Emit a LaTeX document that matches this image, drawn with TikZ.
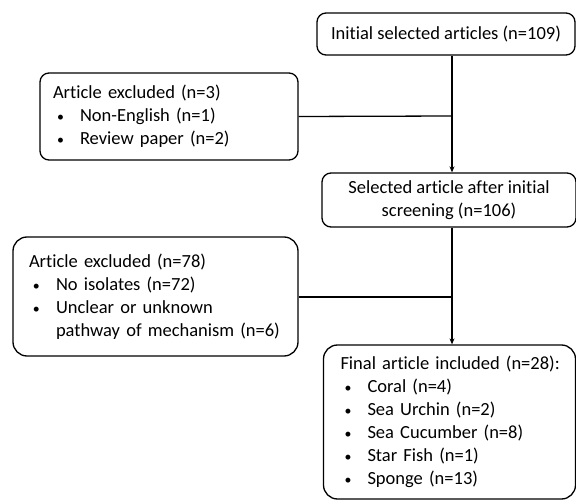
\documentclass[tikz,border=0pt]{standalone}
\usepackage{fontspec}
\setmainfont{Carlito}[Ligatures=NoCommon]
\usetikzlibrary{arrows.meta}
\newcommand{\bul}[1]{\mbox{\makebox[27pt][l]{\hspace*{4pt}\scalebox{0.75}{\textbullet}}#1}}
\begin{document}
\begin{tikzpicture}[x=1pt,y=-1pt,line width=1.3pt]

%
% Styles
%
\tikzstyle{stepbox} = [rectangle,draw,rounded corners=9pt,inner sep=0pt,
  font=\fontsize{18.5}{23}\selectfont]
\tikzstyle{flow} = [-{Stealth[length=6pt,width=5pt]}]

\useasboundingbox (0,0) rectangle (576,500);

\node[stepbox,minimum width=258pt,minimum height=42pt,align=center] (init) at (446,34)
  {Initial selected articles (n=109)};
\node[stepbox,minimum width=254pt,minimum height=54pt,align=center] (screen) at (449,200)
  {Selected article after initial\\screening (n=106)};
\node[stepbox,minimum width=252pt,minimum height=154pt,text width=218pt,align=left,rounded corners=14pt] (final) at (449.5,422)
  {\mbox{Final article included (n=28):}\\ \bul{Coral (n=4)}\\ \bul{Sea Urchin (n=2)}\\
   \bul{Sea Cucumber (n=8)}\\ \bul{Star Fish (n=1)}\\ \bul{Sponge (n=13)}};
\node[stepbox,minimum width=258pt,minimum height=87pt,text width=232pt,align=left] (excla) at (169,116.5)
  {Article excluded (n=3)\\ \bul{Non-English (n=1)}\\ \bul{Review paper (n=2)}};
\node[stepbox,minimum width=285pt,minimum height=119pt,text width=253pt,align=left,rounded corners=14pt] (exclb) at (155.5,296.5)
  {Article excluded (n=78)\\ \bul{No isolates (n=72)}\\ \bul{Unclear or unknown}\\
   \mbox{\hspace*{27pt}pathway of mechanism (n=6)}};

\coordinate (ja) at (452,116);
\coordinate (jb) at (452,297);

\draw[flow] (ja |- init.south) -- (ja |- screen.north);
\draw (excla.east) -- (ja);
\draw[flow] (jb |- screen.south) -- (jb |- final.north);
\draw (exclb.east |- jb) -- (jb);

\end{tikzpicture}
\end{document}
